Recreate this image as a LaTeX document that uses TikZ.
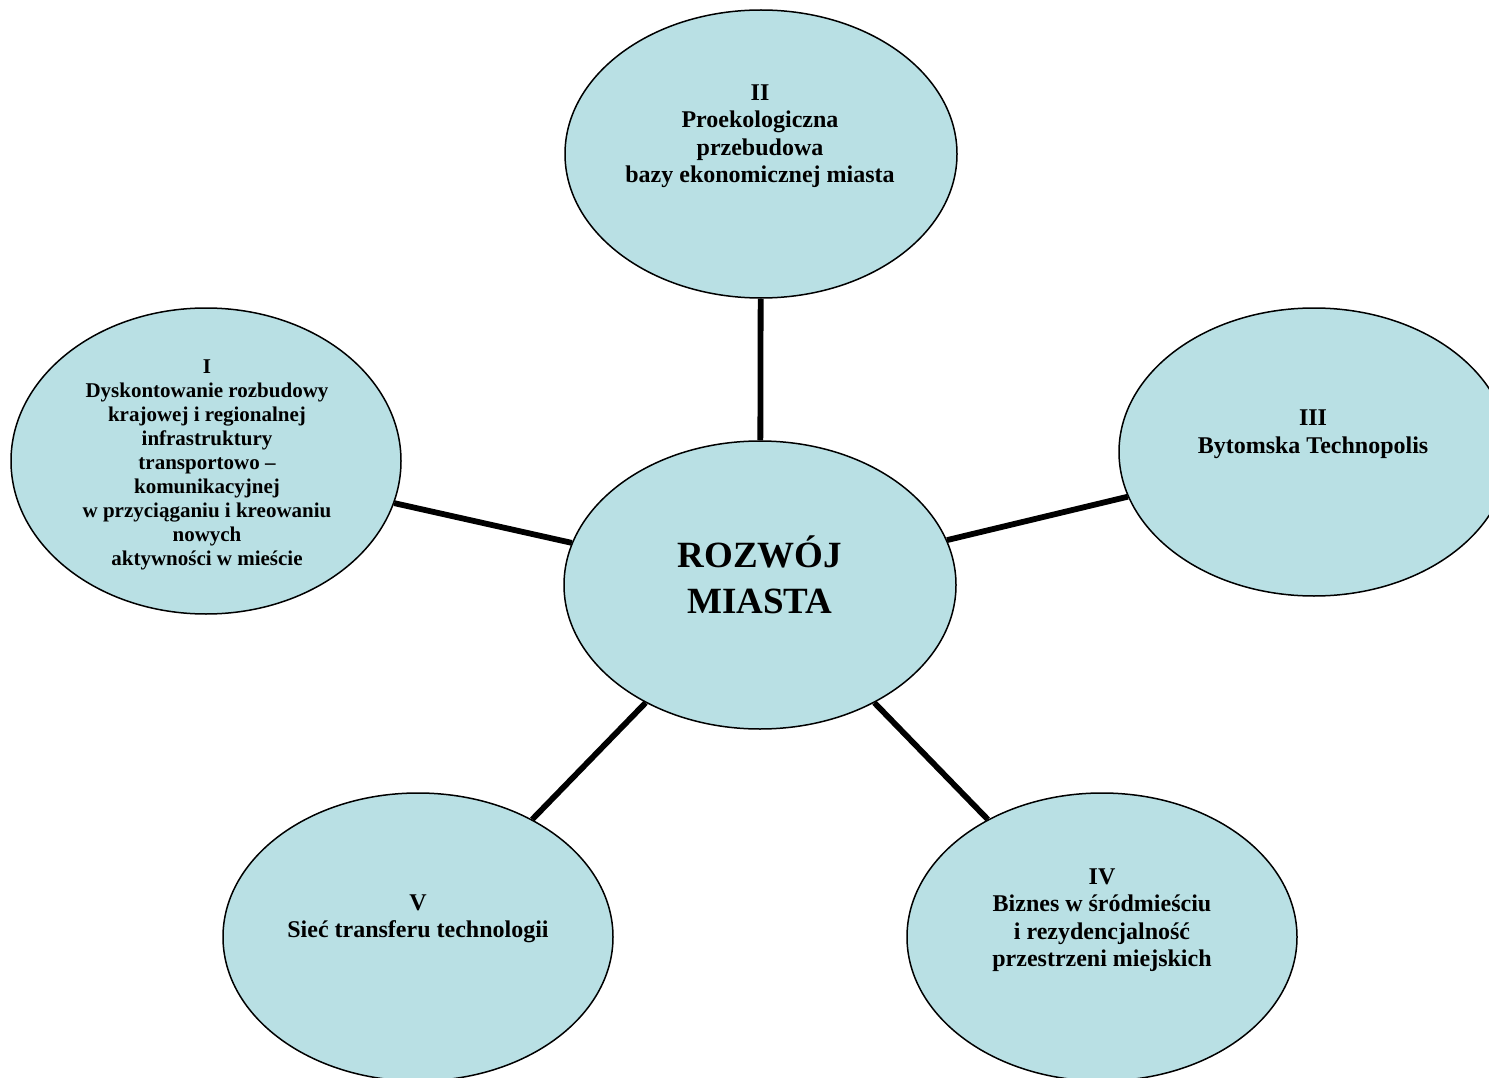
\documentclass[tikz,border=0pt]{standalone}
\usepackage{fontspec}
\setmainfont{Liberation Serif}
\usetikzlibrary{shapes.geometric}
\definecolor{pole}{HTML}{B9E0E4}
\tikzset{
	obszar/.style={shape=ellipse,draw=black,line width=1.5pt,fill=pole,inner sep=0pt,minimum width=390pt,minimum height=288pt},
	opis/.style={align=center,inner sep=0pt,font=\bfseries\fontsize{24}{27.5}\selectfont},
	lacznik/.style={-, line width=5.8pt}
}
\begin{document}
\begin{tikzpicture}[x=1pt,y=-1pt]
	
	\useasboundingbox (0,0) rectangle (1489,1078);
	\clip (0,0) rectangle (1489,1078);
	
	\node[obszar,minimum width=392pt] (rozwoj) at (760, 585) {};
	\node[obszar,minimum width=392pt] (II) at (761, 154) {};
	\node[obszar,minimum height=306pt] (I) at (206, 461) {};
	\node[obszar] (III) at (1314, 452) {};
	\node[obszar] (IV) at (1102, 937) {};
	\node[obszar] (V) at (418, 937) {};
	
	\path[lacznik] (rozwoj) edge (II);
	\path[lacznik] (rozwoj) edge (I);
	\path[lacznik] (rozwoj) edge (III);
	\path[lacznik] (rozwoj) edge (IV);
	\path[lacznik] (rozwoj) edge (V);
	
	\node[opis,font=\bfseries\fontsize{37}{46}\selectfont] (trozwoj) at (760, 575) {ROZWÓJ\\MIASTA};
	\node[opis] (tII) at (760, 136) {II\\Proekologiczna\\przebudowa\\bazy ekonomicznej miasta};
	\node[opis,font=\bfseries\fontsize{21}{24}\selectfont] (tI) at (207, 465) {I\\Dyskontowanie rozbudowy\\krajowej i regionalnej\\infrastruktury\\transportowo --\\komunikacyjnej\\w przyciąganiu i kreowaniu\\nowych\\aktywności w mieście};
	\node[opis] (tIII) at (1313, 434) {III\\Bytomska Technopolis};
	\node[opis] (tIV) at (1102, 920) {IV\\Biznes w śródmieściu\\i rezydencjalność\\przestrzeni miejskich};
	\node[opis] (tV) at (418, 919) {V\\Sieć transferu technologii};
	
\end{tikzpicture}
\end{document}
